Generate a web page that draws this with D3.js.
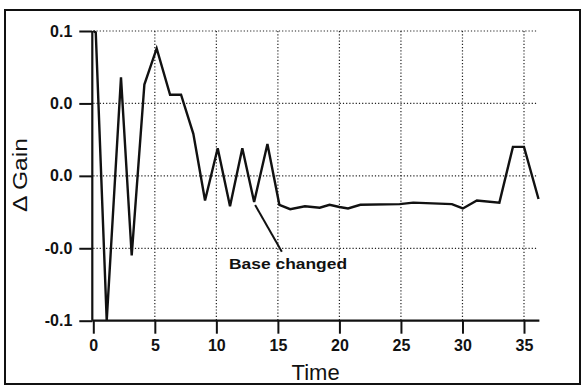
<!DOCTYPE html>
<html>
<head>
<meta charset="utf-8">
<script src="https://cdn.jsdelivr.net/npm/d3@7"></script>
<style>
    body { margin: 0; background: #fff; }
    text { font-family: "Liberation Sans", Arial, sans-serif; }
</style>
</head>
<body>
<script>
// values
const times = [0, 0.2, 1.09, 2.25, 3.12, 4.15, 5.15, 6.24, 7.13, 8.13, 9.08, 10.11, 11.11, 12.11, 13.07, 14.15, 15.12,
    16.0, 17.2, 18.4, 19.2, 20.0, 20.7, 21.7, 24.9, 26.0, 29.14, 30.03, 31.17, 33.0, 34.1, 35.0, 36.18];
const gains = [0.1, 0.099, -0.1, 0.068, -0.055, 0.063, 0.088, 0.056, 0.056, 0.029, -0.017, 0.019, -0.021, 0.019, -0.018, 0.022, -0.020,
    -0.023, -0.021, -0.022, -0.020, -0.0215, -0.0225, -0.020, -0.0195, -0.0185, -0.0195, -0.0225, -0.017, -0.0185, 0.020, 0.020, -0.016];

const xTicks = [0, 5, 10, 15, 20, 25, 30, 35];
const yTicks = [0.1, 0.05, 0, -0.05, -0.1];
const yTickLabels = ["0.1", "0.0", "0.0", "-0.0", "-0.1"];

const note = { text: "Base changed", from: [13.15, -0.0201], to: [15.32, -0.0524], at: [11.03, -0.0645] };

const svg = d3.select('body').append('svg')
    .attr('width', 583)
    .attr('height', 386);

// outer frame
svg.append('rect')
    .attr('x', 5).attr('y', 10)
    .attr('width', 575).attr('height', 374)
    .attr('fill', 'none')
    .attr('stroke', '#111')
    .attr('stroke-width', 2);

const x = d3.scaleLinear().domain([0, 35]).range([93.3, 524]);
const y = d3.scaleLinear().domain([-0.1, 0.1]).range([320.7, 31]);

const g = svg.append('g');

// dotted grid
g.append('g')
    .selectAll('line')
    .data(xTicks.filter(d => d > 0))
    .enter()
    .append('line')
    .attr('x1', d => x(d)).attr('x2', d => x(d))
    .attr('y1', y(0.1)).attr('y2', y(-0.1))
    .attr('stroke', '#222')
    .attr('stroke-width', 1.2)
    .attr('stroke-dasharray', '1.2,2');
g.append('g')
    .selectAll('line')
    .data(yTicks.filter(d => d > -0.1))
    .enter()
    .append('line')
    .attr('x1', x(0)).attr('x2', x(36))
    .attr('y1', d => y(d)).attr('y2', d => y(d))
    .attr('stroke', '#222')
    .attr('stroke-width', 1.2)
    .attr('stroke-dasharray', '1.2,2');

// axes
const xAxis = d3.axisBottom(x).tickValues(xTicks).tickSize(13).tickPadding(6).tickFormat(d3.format('d'));
const yAxis = d3.axisLeft(y).tickValues(yTicks).tickSize(13).tickPadding(7).tickFormat((d, i) => yTickLabels[i]);

const gx = g.append('g')
    .attr('transform', `translate(0,${y(-0.1)})`)
    .call(xAxis);
gx.select('.domain').attr('d', `M${x(0) - 1},0H${x(36.25)}`);

const gy = g.append('g')
    .attr('transform', `translate(${x(0) - 1},0)`)
    .call(yAxis);
gy.select('.domain').attr('d', `M0,${y(0.1)}V${y(-0.1)}`);

[gx, gy].forEach(a => {
    a.selectAll('.domain').attr('stroke', '#111').attr('stroke-width', 2.2);
    a.selectAll('.tick line').attr('stroke', '#111').attr('stroke-width', 2);
    a.selectAll('.tick text')
        .attr('fill', '#111')
        .attr('font-size', 16)
        .attr('font-weight', 'bold')
        .attr('font-family', '"Liberation Sans", Arial, sans-serif');
});

// data line
const line = d3.line()
    .x((d, i) => x(times[i]))
    .y(d => y(d));
g.append('path')
    .datum(gains)
    .attr('fill', 'none')
    .attr('stroke', '#111')
    .attr('stroke-width', 2.4)
    .attr('stroke-linejoin', 'miter')
    .attr('d', line);

// annotation
g.append('line')
    .attr('x1', x(note.from[0])).attr('y1', y(note.from[1]))
    .attr('x2', x(note.to[0])).attr('y2', y(note.to[1]))
    .attr('stroke', '#111')
    .attr('stroke-width', 2);
g.append('text')
    .attr('x', x(note.at[0]))
    .attr('y', y(note.at[1]))
    .attr('font-size', 15)
    .attr('font-weight', 'bold')
    .attr('fill', '#111')
    .attr('textLength', 118)
    .attr('lengthAdjust', 'spacingAndGlyphs')
    .text(note.text);

// axis titles
svg.append('text')
    .attr('x', (x(15) + x(20)) / 2 + 7)
    .attr('y', 380)
    .attr('text-anchor', 'middle')
    .attr('font-size', 22)
    .attr('fill', '#111')
    .text('Time');

svg.append('text')
    .attr('transform', 'translate(27,175) rotate(-90)')
    .attr('text-anchor', 'middle')
    .attr('font-size', 21)
    .attr('fill', '#111')
    .attr('textLength', 74)
    .attr('lengthAdjust', 'spacingAndGlyphs')
    .text('Δ Gain');
</script>
</body>
</html>
